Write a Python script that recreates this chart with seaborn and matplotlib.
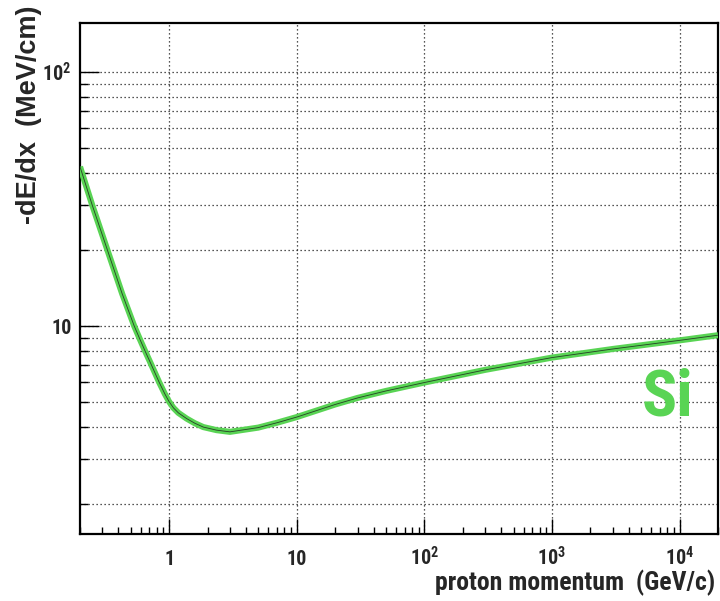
import matplotlib
matplotlib.use("Agg")
import matplotlib.pyplot as plt
from matplotlib import font_manager
from matplotlib.ticker import FixedLocator, FixedFormatter, LogLocator, NullFormatter
import seaborn as sns
import pandas as pd

# ---- data ----
momentum = [0.2, 0.2075, 0.249, 0.327, 0.428, 0.532, 0.582, 0.645, 0.728, 0.835,
            0.925, 0.995, 1.08, 1.18, 1.37, 1.59, 1.85, 2.35, 2.99, 4.98, 7.0,
            10.0, 20.0, 30.0, 50.0, 100.0, 300.0, 1000.0, 3000.0, 10000.0, 20000.0]
dedx = [42.4, 40.0, 30.0, 20.0, 13.4, 10.0, 9.0, 8.0, 7.0, 6.0,
        5.4, 5.05, 4.76, 4.55, 4.32, 4.14, 4.0, 3.89, 3.83, 3.98, 4.16,
        4.38, 4.91, 5.21, 5.55, 5.99, 6.72, 7.51, 8.12, 8.78, 9.2]
x_ticks = [1, 10, 100, 1000, 10000]
x_ticklabels = ["1", "10", "$10^{2}$", "$10^{3}$", "$10^{4}$"]
y_ticks = [10, 100]
y_ticklabels = ["10", "$10^{2}$"]
x_title = "proton momentum  (GeV/c)"
y_title = "-dE/dx  (MeV/cm)"
material = "Si"

GREEN = "#59d454"

sns.set_style("white")
names = {f.name for f in font_manager.fontManager.ttflist}
NARROW = next((n for n in ["Liberation Sans Narrow", "Roboto Condensed",
                           "Open Sans Condensed", "Liberation Sans"] if n in names),
              "DejaVu Sans")
plt.rcParams["font.family"] = [NARROW, "DejaVu Sans"]
plt.rcParams["font.weight"] = "bold"
plt.rcParams["mathtext.fontset"] = "custom"
for k in ["rm", "bf", "it", "sf"]:
    plt.rcParams["mathtext." + k] = NARROW + ":bold"

fig = plt.figure(figsize=(7.2, 6.01), dpi=100)
ax = fig.add_axes([80 / 720, 67 / 601, 638 / 720, 511 / 601])
ax.set_xscale("log")
ax.set_yscale("log")

df = pd.DataFrame({"p": momentum, "dedx": dedx})
sns.lineplot(data=df, x="p", y="dedx", ax=ax, color=GREEN, lw=4.4,
             solid_capstyle="butt", solid_joinstyle="round", zorder=3)
sns.lineplot(data=df, x="p", y="dedx", ax=ax, color="#263f26", lw=0.6, zorder=4)

ax.set_xlim(0.2, 2e4)
ax.set_ylim(1.517, 156)
ax.set_xlabel("")
ax.set_ylabel("")

ax.xaxis.set_major_locator(FixedLocator(x_ticks))
ax.xaxis.set_major_formatter(FixedFormatter(x_ticklabels))
ax.xaxis.set_minor_locator(LogLocator(base=10, subs=range(2, 10), numticks=50))
ax.xaxis.set_minor_formatter(NullFormatter())
ax.yaxis.set_major_locator(FixedLocator(y_ticks))
ax.yaxis.set_major_formatter(FixedFormatter(y_ticklabels))
ax.yaxis.set_minor_locator(LogLocator(base=10, subs=range(2, 10), numticks=50))
ax.yaxis.set_minor_formatter(NullFormatter())

grid_kw = dict(ls=(0, (1, 2.2)), lw=0.9, color="#1e1e1e")
ax.grid(axis="x", which="major", **grid_kw)
ax.grid(axis="y", which="both", **grid_kw)
ax.set_axisbelow(True)

ax.tick_params(axis="x", which="major", direction="in", length=10.8, width=1.0,
               pad=22.5, labelsize=14.5, bottom=True, top=False, color="black")
ax.tick_params(axis="x", which="minor", direction="in", length=5.3, width=1.0,
               bottom=True, top=False, color="black")
ax.tick_params(axis="y", which="major", direction="in", length=13.5, width=1.0,
               pad=6, labelsize=14.5, left=True, right=False, color="black")
ax.tick_params(axis="y", which="minor", direction="in", length=6.0, width=1.0,
               left=True, right=False, color="black")
for t in ax.xaxis.get_major_ticks():
    t.label1.set_verticalalignment("baseline")
for lbl in ax.get_xticklabels() + ax.get_yticklabels():
    lbl.set_fontweight("bold")

for s in ax.spines.values():
    s.set_visible(True)
    s.set_linewidth(1.6)
    s.set_color("black")

fig.text(715 / 720, 1 - 590 / 601, x_title, ha="right", va="baseline",
         fontsize=18.5, fontweight="bold")
fig.text(29 / 720, 1 - 5 / 601, y_title, ha="center", va="top", rotation=90,
         fontsize=19.5, fontweight="bold", family=["Liberation Sans", "DejaVu Sans"])
fig.text(642 / 720, 1 - 415 / 601, material, ha="left", va="baseline",
         fontsize=47, fontweight="bold", color=GREEN)

fig.savefig("out.png", dpi=100)
